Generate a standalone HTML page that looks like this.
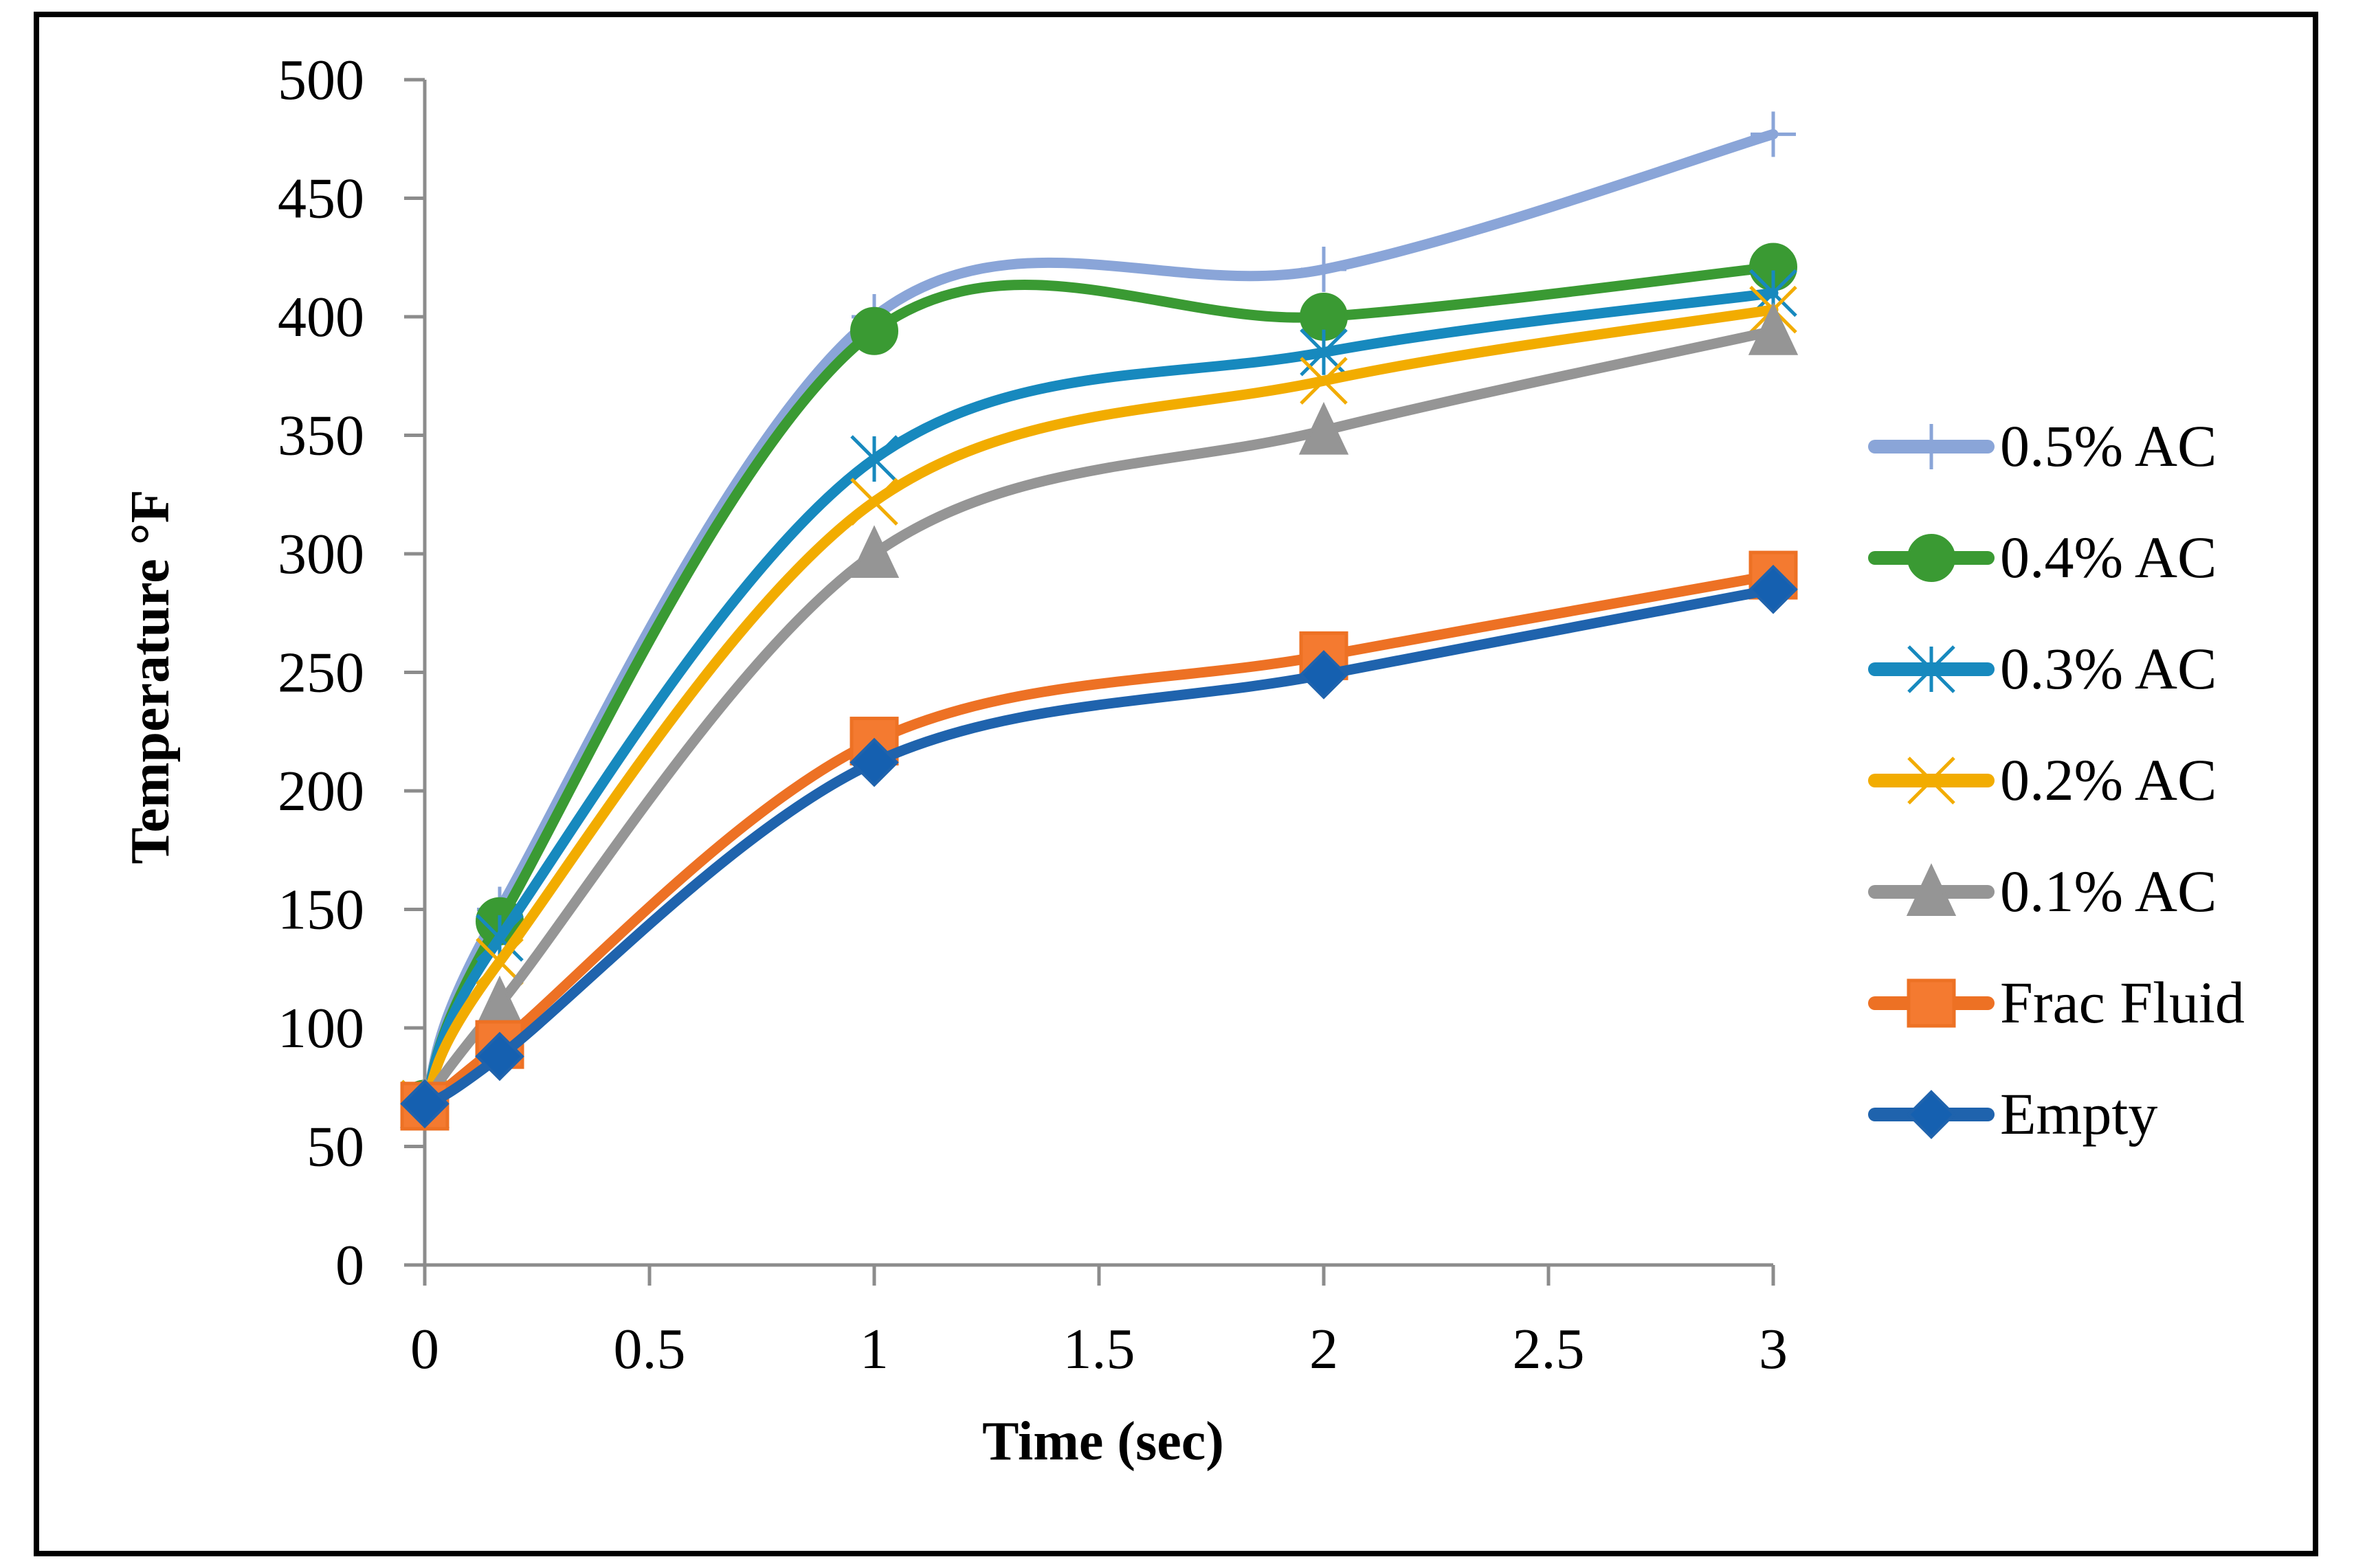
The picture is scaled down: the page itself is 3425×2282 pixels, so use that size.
<!DOCTYPE html>
<html><head><meta charset="utf-8">
<style>
html,body{margin:0;padding:0;background:#fff;}
svg{display:block;}
text{font-family:"Liberation Serif",serif;fill:#000;}
</style></head>
<body>
<svg id="chart" width="3425" height="2282" viewBox="0 0 3425 2282" xmlns="http://www.w3.org/2000/svg">
<rect x="53" y="21" width="3316" height="2240" fill="#fff" stroke="#000" stroke-width="8"/>
<g id="axes"></g>
<g id="series"></g>
<g id="legend"></g>
<text x="1605" y="2124" font-size="80" font-weight="bold" text-anchor="middle">Time (sec)</text>
<text x="0" y="0" font-size="80" font-weight="bold" text-anchor="middle" transform="translate(245,985) rotate(-90)">Temperature °F</text>
</svg>
<script>
const xValues = [0, 0.1667, 1, 2, 3];
const seriesNames = ["0.5% AC","0.4% AC","0.3% AC","0.2% AC","0.1% AC","Frac Fluid","Empty"];
const s05 = [68, 150, 400, 420, 477];
const s04 = [68, 145, 394, 400, 421];
const s03 = [68, 138, 340, 385, 410];
const s02 = [68, 128, 322, 373, 403];
const s01 = [68, 110, 300, 352, 394];
const sFrac = [67, 93, 221, 257, 291];
const sEmpty = [68, 88, 212, 249, 285];
const yTicks = [0,50,100,150,200,250,300,350,400,450,500];
const xTicks = [0,0.5,1,1.5,2,2.5,3];
const xTickLabels = ["0","0.5","1","1.5","2","2.5","3"];

const NS = "http://www.w3.org/2000/svg";
const X0=618, X1=2580, Y0=1841, Y1=116;
function xs(v){return X0 + (v-0)/(3-0)*(X1-X0);}
function ys(v){return Y0 - (v-0)/(500-0)*(Y0-Y1);}
function mk(tag, attrs, parent){const e=document.createElementNS(NS,tag);for(const k in attrs)e.setAttribute(k,attrs[k]);parent.appendChild(e);return e;}

const axes=document.getElementById('axes');
const ax=mk('line',{x1:X0,y1:Y1,x2:X0,y2:Y0,stroke:'#8c8c8c','stroke-width':5},axes);


const bx=mk('line',{x1:X0-30,y1:Y0,x2:X1,y2:Y0,stroke:'#8c8c8c','stroke-width':5},axes);


yTicks.forEach(t=>{
  const l=mk('line',{x1:X0-30,y1:ys(t),x2:X0,y2:ys(t),stroke:'#8c8c8c','stroke-width':5},axes);
  
  
  const tx=mk('text',{x:530,y:ys(t)+28,'font-size':84,'text-anchor':'end'},axes);
  tx.textContent=String(t);
  
  
});
xTicks.forEach((t,i)=>{
  const l=mk('line',{x1:xs(t),y1:Y0,x2:xs(t),y2:Y0+30,stroke:'#8c8c8c','stroke-width':5},axes);
  
  
  const tx=mk('text',{x:xs(t),y:Y0+150,'font-size':84,'text-anchor':'middle'},axes);
  tx.textContent=xTickLabels[i];
  
  
});

const styles=[
 {c:'#8aa5d8',m:'plus'},{c:'#3a9a33',m:'circle'},{c:'#1789be',m:'star'},
 {c:'#f2ac00',m:'x'},{c:'#959595',m:'tri'},{c:'#ed7124',m:'square'},{c:'#1f63ad',m:'diamond'}];
const allData=[s05,s04,s03,s02,s01,sFrac,sEmpty];

function smoothPath(pts){
  let d=`M${pts[0][0]},${pts[0][1]}`;
  for(let i=0;i<pts.length-1;i++){
    const p0=pts[Math.max(0,i-1)],p1=pts[i],p2=pts[i+1],p3=pts[Math.min(pts.length-1,i+2)];
    const c1=[p1[0]+(p2[0]-p0[0])/6,p1[1]+(p2[1]-p0[1])/6];
    const c2=[p2[0]-(p3[0]-p1[0])/6,p2[1]-(p3[1]-p1[1])/6];
    d+=` C${c1[0]},${c1[1]} ${c2[0]},${c2[1]} ${p2[0]},${p2[1]}`;
  }
  return d;
}
function marker(g,type,x,y,c){
  const r=33;let e;
  if(type==='circle') e=mk('circle',{cx:x,cy:y,r:r,fill:c,stroke:c,'stroke-width':4},g);
  else if(type==='square') e=mk('rect',{x:x-r,y:y-r,width:2*r,height:2*r,fill:'#f47a30',stroke:c,'stroke-width':5},g);
  else if(type==='diamond') e=mk('polygon',{points:`${x},${y-r} ${x+r},${y} ${x},${y+r} ${x-r},${y}`,fill:'#1560b0',stroke:c,'stroke-width':4},g);
  else if(type==='tri') e=mk('polygon',{points:`${x},${y-r-4} ${x+r},${y+r} ${x-r},${y+r}`,fill:c,stroke:c,'stroke-width':4},g);
  else if(type==='plus') e=mk('path',{d:`M${x-r},${y}H${x+r}M${x},${y-r}V${y+r}`,stroke:c,'stroke-width':5,fill:'none'},g);
  else if(type==='x') e=mk('path',{d:`M${x-r},${y-r}L${x+r},${y+r}M${x+r},${y-r}L${x-r},${y+r}`,stroke:c,'stroke-width':5,fill:'none'},g);
  else e=mk('path',{d:`M${x-r},${y-r}L${x+r},${y+r}M${x+r},${y-r}L${x-r},${y+r}M${x},${y-r}V${y+r}`,stroke:c,'stroke-width':5,fill:'none'},g);
  return e;
}
const sg=document.getElementById('series');
allData.forEach((data,si)=>{
  const g=mk('g',{},sg);
  
  
  const pts=data.map((v,i)=>[xs(xValues[i]),ys(v)]);
  const p=mk('path',{d:smoothPath(pts),fill:'none',stroke:styles[si].c,'stroke-width':15,'stroke-linecap':'round','stroke-linejoin':'round'},g);
  
  
  pts.forEach(pt=>{
    const m=marker(g,styles[si].m,pt[0],pt[1],styles[si].c);
    
    
  });
});
const lg=document.getElementById('legend');
seriesNames.forEach((n,i)=>{
  const y=650+i*162;
  const g=mk('g',{},lg);
  
  
  mk('line',{x1:2728,y1:y,x2:2892,y2:y,stroke:styles[i].c,'stroke-width':20,'stroke-linecap':'round'},g);
  const m=marker(g,styles[i].m,2810,y,styles[i].c);
  
  
  const t=mk('text',{x:2910,y:y+28,'font-size':86},g);
  t.textContent=n;
  
  
});
</script>
</body></html>
